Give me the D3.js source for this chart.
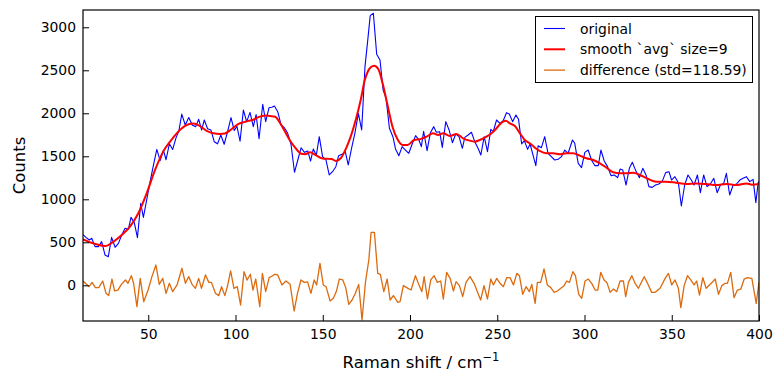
<!DOCTYPE html>
<html><head><meta charset="utf-8">
<script src="https://cdn.jsdelivr.net/npm/d3@7"></script>
<style>
body{margin:0;background:#fff;}
svg{display:block;font-family:"DejaVu Sans",sans-serif;}
</style></head>
<body><svg id="chart" width="783" height="383"></svg>
<script>
const origShift=[12.6,14.3,16.2,17.6,19.5,21.4,23.3,25.2,27.1,29.0,31.0,32.9,34.8,36.7,38.6,40.1,42.0,43.8,45.7,47.2,49.1,51.0,53.0,54.9,56.8,58.7,60.2,62.1,64.0,66.0,67.5,69.2,71.2,73.2,75.3,77.2,78.9,80.6,82.1,84.0,85.9,87.8,89.7,91.6,93.5,95.5,97.4,99.3,100.8,102.6,104.5,106.4,108.3,110.2,111.8,113.5,115.6,117.3,119.2,120.8,122.3,124.2,126.1,128.0,129.9,131.8,133.8,135.7,137.6,139.5,141.4,143.0,144.6,146.3,148.0,149.9,151.8,153.7,155.6,157.5,159.1,161.0,162.9,164.6,166.5,168.4,170.4,172.3,174.2,175.7,177.2,179.0,180.9,182.8,184.6,186.3,188.2,190.2,191.7,193.6,195.5,197.4,199.3,201.2,203.2,205.1,206.5,207.8,209.8,211.7,213.6,215.1,217.0,218.5,220.5,222.4,224.3,226.2,228.1,230.0,231.4,233.3,235.2,237.1,239.0,240.6,242.5,244.4,246.3,247.7,249.6,251.5,253.4,255.3,256.9,258.8,260.7,262.2,264.0,265.5,267.4,268.8,270.7,272.1,273.4,275.3,277.2,279.1,281.0,282.9,284.9,286.8,288.7,290.6,293.1,294.4,296.4,298.3,300.2,302.1,304.0,306.0,307.9,309.4,311.3,313.2,315.2,317.1,319.0,320.4,321.9,323.8,325.7,327.4,329.6,331.5,333.4,335.3,336.9,338.8,340.7,342.6,344.5,346.5,348.4,349.9,351.8,353.8,355.5,357.4,359.3,361.2,362.8,364.7,366.4,368.3,370.2,372.1,374.1,376.0,377.9,379.8,381.3,383.2,385.2,387.1,389.0,390.9,392.8,394.7,396.6,398.2,399.5,400.0];
const origCounts=[590,558,527,547,450,450,508,353,333,558,442,488,585,663,651,790,729,554,953,790,992,1200,1400,1580,1450,1570,1460,1645,1580,1720,1790,1990,1864,1950,1860,1845,1930,1806,1922,1820,1806,1670,1645,1748,1640,1790,1950,1800,1850,1675,2038,1903,2010,1845,1985,1705,2105,1903,2065,2070,2085,2019,1864,1833,1767,1640,1314,1457,1600,1546,1562,1445,1585,1510,1728,1496,1460,1283,1321,1379,1507,1523,1554,1399,1593,1767,2000,1806,2542,2833,3135,3163,2686,2620,2271,2174,1826,1728,1585,1507,1612,1573,1535,1640,1740,1690,1612,1790,1565,1775,1845,1779,1786,1604,1903,1806,1658,1759,1728,1593,1720,1748,1779,1670,1593,1515,1728,1554,1814,1786,1922,1883,1914,2007,1992,1903,1980,1930,1643,1682,1581,1643,1500,1391,1623,1600,1728,1535,1496,1457,1465,1496,1573,1535,1690,1651,1418,1368,1546,1573,1457,1391,1391,1573,1445,1380,1275,1283,1252,1352,1341,1166,1360,1430,1322,1252,1360,1280,1147,1139,1166,1178,1205,1310,1321,1224,1263,1193,922,1166,1283,1224,1166,1283,1077,1283,1147,1178,1244,1077,1166,1185,1302,1050,1166,1178,1224,1244,1263,1205,1232,961,1193,1210];

const smoothShift=[12.6,18.5,25.2,29.9,34.8,39.5,44.3,49.1,53.9,58.7,62.5,66.3,71.1,75.8,79.7,83.5,87.3,91.1,93.9,97.7,101.5,105.4,107.3,110.2,113.1,117.0,119.8,122.7,125.6,128.4,131.3,134.2,137.6,139.9,142.8,145.0,149.9,155.1,157.5,160.4,163.3,166.2,169.0,171.9,174.0,175.7,177.5,179.5,181.8,184.3,187.1,190.0,192.9,195.7,198.6,202.4,205.8,209.4,213.2,216.1,219.0,222.8,226.6,230.4,234.2,237.1,240.0,243.8,246.7,249.6,252.4,254.9,257.2,260.1,263.0,265.8,268.7,271.6,274.3,278.1,282.0,285.8,289.6,293.5,297.3,301.1,305.0,308.8,312.6,316.4,320.3,324.1,327.9,331.7,336.5,341.1,346.8,352.5,358.3,364.0,369.8,375.5,381.3,387.0,392.8,396.0,400.0];
const smoothCounts=[535,488,457,505,585,682,837,1070,1341,1560,1670,1767,1853,1880,1850,1795,1767,1760,1765,1815,1875,1900,1912,1925,1955,1975,1968,1960,1884,1786,1680,1600,1530,1525,1546,1525,1475,1468,1446,1480,1590,1740,1930,2170,2380,2480,2535,2552,2515,2349,2096,1840,1695,1632,1632,1690,1700,1728,1767,1748,1767,1736,1759,1709,1682,1670,1690,1728,1767,1826,1891,1914,1883,1853,1767,1690,1651,1600,1562,1535,1535,1523,1535,1535,1508,1477,1457,1418,1368,1314,1302,1302,1310,1283,1236,1205,1205,1193,1178,1185,1178,1166,1178,1166,1185,1170,1178];

const diffShift=[12.6,16.1,17.8,19.7,21.6,23.9,25.8,27.3,29.2,30.7,32.6,34.6,36.9,38.4,40.3,41.6,43.5,45.4,47.4,49.9,52.1,54.4,56.3,58.3,60.2,62.1,64.0,66.5,69.3,71.3,73.2,75.1,77.0,78.9,80.5,82.8,84.7,86.2,88.5,90.4,92.0,93.9,95.5,97.2,99.1,101.0,102.9,104.9,106.6,108.5,110.0,111.6,113.9,115.4,117.3,119.3,120.8,122.4,124.2,126.6,128.9,131.3,133.6,135.5,137.5,139.4,141.3,143.2,145.1,146.5,148.4,150.3,151.9,154.2,156.1,157.8,159.5,161.5,163.2,164.9,166.8,168.7,170.6,172.5,174.5,176.4,177.7,179.6,181.5,183.0,185.0,186.9,188.6,190.5,193.0,194.3,196.2,198.1,200.6,203.1,205.0,206.8,208.1,210.0,211.9,213.8,215.7,217.6,219.1,221.0,223.0,224.9,226.4,228.3,230.2,232.1,234.4,236.7,238.6,240.5,242.4,244.4,246.3,247.8,249.7,251.6,253.5,255.4,257.3,259.3,261.2,262.7,264.6,266.5,268.4,269.8,271.7,273.0,274.9,276.8,278.7,280.7,282.6,284.5,286.4,288.3,289.8,291.4,293.3,294.8,296.7,298.4,300.3,302.2,304.1,306.1,307.6,309.3,311.2,312.8,314.7,316.6,318.5,320.4,322.3,323.6,325.2,327.1,329.0,330.9,334.2,336.1,338.5,340.5,343.3,346.2,348.1,350.0,351.9,353.8,355.2,357.1,359.0,360.9,362.8,364.3,365.9,367.8,369.7,371.6,373.5,374.9,376.8,378.7,380.6,381.9,383.8,385.7,387.6,389.6,391.5,393.4,395.9,398.4,400.0];
const diffCounts=[50,-16,34,-27,-27,50,-93,-120,73,-66,-55,11,62,24,112,24,-248,81,-190,-55,101,236,11,81,-93,24,-74,4,198,24,101,11,-35,81,-35,120,34,34,-93,-120,-16,-120,0,167,-35,-16,-229,159,60,128,-55,73,-248,139,-74,89,105,128,120,4,50,11,-299,-93,62,34,40,-93,62,4,256,4,-16,-182,-151,-70,73,62,-30,-221,-171,-93,11,-403,42,294,616,616,139,128,-74,73,-171,-120,-198,-190,-4,-27,-55,112,11,-74,100,-159,62,112,34,50,-159,151,81,-66,42,-4,-132,34,100,23,-74,-171,-4,-159,73,4,81,23,-16,89,89,4,139,112,-105,-16,-74,11,-210,34,34,190,4,-27,-82,-66,-35,-4,50,34,159,112,-105,-151,50,73,23,-55,-55,151,62,34,-82,-43,-74,50,50,-132,34,112,23,-35,100,23,-82,-82,-35,81,139,4,62,-35,-260,-4,112,62,4,50,-113,89,-35,4,42,73,-105,-4,23,23,151,-144,-55,-43,73,89,81,-210,34];

const xTicks=[50,100,150,200,250,300,350,400];
const yTicks=[0,500,1000,1500,2000,2500,3000];
const seriesLabels=["original","smooth `avg` size=9","difference (std=118.59)"];
const seriesColors=["#0000ff","#ff0000","#dc6a0e"];
const seriesWidths=[1.1,2,1.3];

const L=83,R=759,T=10,B=321;
const svg=d3.select("#chart");
const x=d3.scaleLinear().domain([12.6,400]).range([L,R]);
const y=d3.scaleLinear().domain([-415,3201]).range([B,T]);

svg.append("clipPath").attr("id","clip").append("rect")
  .attr("x",L).attr("y",T).attr("width",R-L).attr("height",B-T);

const g=svg.append("g").attr("clip-path","url(#clip)");
const mk=(xs,vs)=>xs.map((d,i)=>[d,vs[i]]);
const data=[mk(origShift,origCounts),mk(smoothShift,smoothCounts),mk(diffShift,diffCounts)];
const lineLin=d3.line().x(d=>x(d[0])).y(d=>y(d[1]));
const lineSm=d3.line().x(d=>x(d[0])).y(d=>y(d[1])).curve(d3.curveMonotoneX);
[0,2,1].forEach(k=>{
  g.append("path").datum(data[k]).attr("fill","none")
   .attr("stroke",seriesColors[k]).attr("stroke-width",seriesWidths[k])
   .attr("stroke-linejoin","round")
   .attr("d",k===1?lineSm(data[k]):lineLin(data[k]));
});

const xa=svg.append("g").attr("transform",`translate(0,${B})`)
  .call(d3.axisBottom(x).tickValues(xTicks).tickSize(-6).tickPadding(8).tickFormat(d3.format("d")));
const ya=svg.append("g").attr("transform",`translate(${L},0)`)
  .call(d3.axisLeft(y).tickValues(yTicks).tickSize(-6).tickPadding(7).tickFormat(d3.format("d")));
[xa,ya].forEach(a=>{
  a.select(".domain").remove();
  a.selectAll("line").attr("stroke","#000").attr("stroke-width",1);
  a.selectAll("text").attr("font-size","13.9px").attr("fill","#000").attr("font-family","DejaVu Sans");
});

svg.append("rect").attr("x",L).attr("y",T).attr("width",R-L).attr("height",B-T)
  .attr("fill","none").attr("stroke","#000").attr("stroke-width",1.2);

// legend
const lg=svg.append("g");
lg.append("rect").attr("x",535.5).attr("y",16.5).attr("width",217).attr("height",66)
  .attr("fill","#fff").attr("stroke","#000").attr("stroke-width",1);
seriesLabels.forEach((t,i)=>{
  const yy=28.5+i*20.8;
  lg.append("line").attr("x1",544).attr("x2",565).attr("y1",yy).attr("y2",yy)
    .attr("stroke",seriesColors[i]).attr("stroke-width",seriesWidths[i]);
  lg.append("text").attr("x",580).attr("y",yy+5).attr("font-size","13.9px").attr("fill","#000").text(t);
});

// axis labels
const xl=svg.append("text").attr("x",(L+R)/2).attr("y",368).attr("text-anchor","middle")
  .attr("font-size","16.5px").attr("fill","#000");
xl.append("tspan").text("Raman shift / cm");
xl.append("tspan").attr("font-size","11.5px").attr("dy","-7").text("\u22121");
svg.append("text").attr("transform",`translate(25,${(T+B)/2}) rotate(-90)`)
  .attr("text-anchor","middle").attr("font-size","16.5px").attr("fill","#000").text("Counts");
</script></body></html>
